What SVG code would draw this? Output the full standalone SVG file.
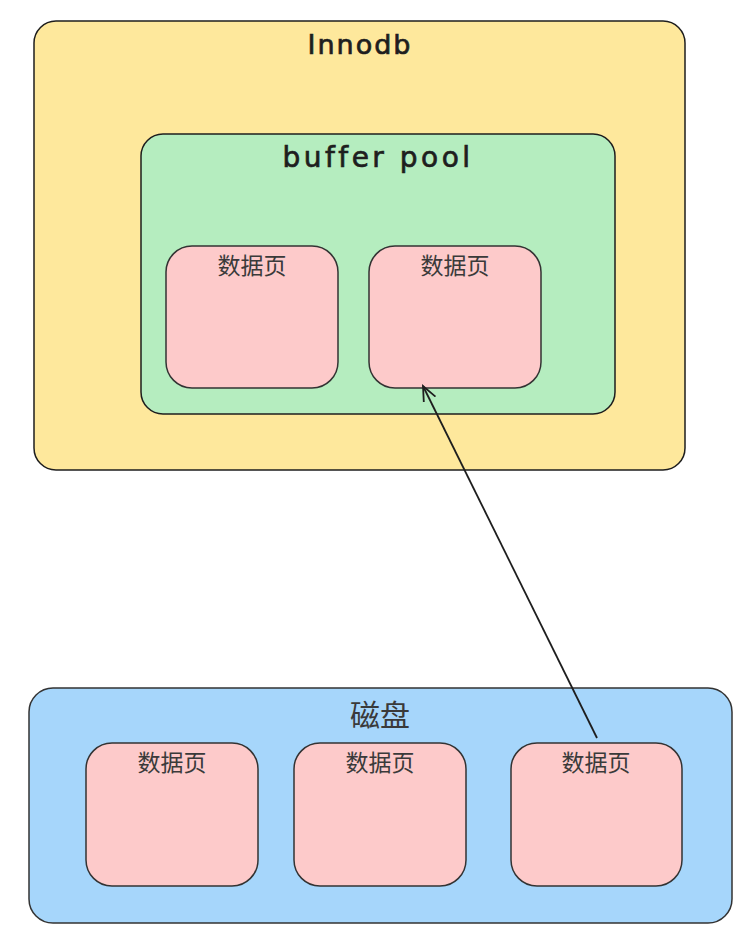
<svg xmlns="http://www.w3.org/2000/svg" width="746" height="934" viewBox="0 0 746 934">
<style>
.box{stroke:#1e1e1e;stroke-width:1.5}
.page{fill:#fdcaca;stroke:#333;stroke-width:1.5}
.hand{font-family:"DejaVu Sans",sans-serif;fill:#1e1e1e;stroke:#1e1e1e;stroke-width:0.7;text-anchor:middle}
.cjk{font-family:"Noto Sans CJK SC",sans-serif;fill:#3a3a3a;text-anchor:middle;font-size:23px}
</style>
<defs>
<marker id="arr" markerWidth="20" markerHeight="20" refX="15" refY="10" orient="auto" markerUnits="userSpaceOnUse">
<path d="M0,3.5 L15,10 L0,16.5" fill="none" stroke="#1e1e1e" stroke-width="1.8"/>
</marker>
</defs>
<rect width="746" height="934" fill="#ffffff"/>
<g id="innodb">
<rect class="box" x="34" y="21" width="651" height="449" rx="22" fill="#fee89c"/>
<text class="hand" x="360" y="54" font-size="27" letter-spacing="2">Innodb</text>
</g>
<g id="bufferpool">
<rect class="box" x="141" y="134" width="474" height="280" rx="22" fill="#b5edbf"/>
<text class="hand" x="378" y="167" font-size="28" letter-spacing="3.5">buffer pool</text>
</g>
<g id="bp-page1">
<rect class="page" x="166" y="246" width="172" height="142" rx="26"/>
<text class="cjk" x="252" y="274">数据页</text>
</g>
<g id="bp-page2">
<rect class="page" x="369" y="246" width="172" height="142" rx="26"/>
<text class="cjk" x="455" y="274">数据页</text>
</g>
<g id="disk">
<rect x="29" y="688" width="703" height="235" rx="24" fill="#a6d6fb" stroke="#333" stroke-width="1.5"/>
<text class="cjk" x="380" y="726" style="font-size:30px">磁盘</text>
</g>
<g id="disk-page1">
<rect class="page" x="86" y="743" width="172" height="143" rx="26"/>
<text class="cjk" x="172" y="771">数据页</text>
</g>
<g id="disk-page2">
<rect class="page" x="294" y="743" width="172" height="143" rx="26"/>
<text class="cjk" x="380" y="771">数据页</text>
</g>
<g id="disk-page3">
<rect class="page" x="511" y="743" width="171" height="143" rx="26"/>
<text class="cjk" x="596" y="771">数据页</text>
</g>
<g id="connectors">
<line x1="597" y1="738" x2="423" y2="386" stroke="#1e1e1e" stroke-width="1.8" marker-end="url(#arr)"/>
</g>
</svg>
